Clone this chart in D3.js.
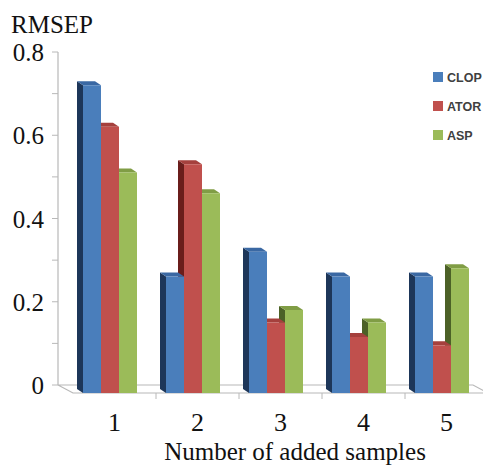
<!DOCTYPE html>
<html>
<head>
<meta charset="utf-8">
<script src="https://cdn.jsdelivr.net/npm/d3@7"></script>
<style>
  body { margin: 0; background: #fff; }
  svg { display: block; }
</style>
</head>
<body>
<div id="chart"></div>
<script>
// data
var samples = ["1", "2", "3", "4", "5"];
var seriesNames = ["CLOP", "ATOR", "ASP"];
var clop = [0.73, 0.27, 0.33, 0.27, 0.27];
var ator = [0.63, 0.54, 0.16, 0.125, 0.105];
var asp  = [0.52, 0.47, 0.19, 0.16, 0.29];
var yTicks = [0, 0.2, 0.4, 0.6, 0.8];

var values = [clop, ator, asp];

var width = 483, height = 465;

var svg = d3.select("#chart")
  .append("svg")
    .attr("width", width)
    .attr("height", height);

// colours: front, side, top
var colors = [
  {front: "#4a7ebb", side: "#1d3659", top: "#3a68a3"},
  {front: "#c0504d", side: "#6a1d1b", top: "#a5403d"},
  {front: "#9bbb59", side: "#4c6127", top: "#809d45"}
];

// depth of the 3d look (back face offset)
var dx = -6, dy = -4;
var floorDx = 15, floorDy = 8;

// y scale on the back wall
var y = d3.scaleLinear()
  .domain([0, 0.8])
  .range([385, 52]);

// x band on the front edge of the floor
var x = d3.scaleBand()
  .domain(samples)
  .range([73, 488]);

var barW = 18, barOffset = 10;

// floor
var x0 = 58, xEnd = 473;
var floor = [[x0, y(0)], [xEnd, y(0)], [xEnd + floorDx, y(0) + floorDy], [x0 + floorDx, y(0) + floorDy]];
svg.append("polygon")
  .attr("points", floor.map(function(p) { return p.join(","); }).join(" "))
  .attr("fill", "none")
  .attr("stroke", "#b8b8b8")
  .attr("stroke-width", 1.2);

// ticks under front edge
svg.selectAll(".xtick")
  .data(samples.slice(1))
  .enter()
  .append("line")
    .attr("x1", function(d) { return x(d); })
    .attr("x2", function(d) { return x(d); })
    .attr("y1", y(0) + floorDy)
    .attr("y2", y(0) + floorDy + 6)
    .attr("stroke", "#b8b8b8");

// y axis line + ticks every 0.1
svg.append("line")
  .attr("x1", x0).attr("x2", x0)
  .attr("y1", y(0.8)).attr("y2", y(0))
  .attr("stroke", "#b8b8b8")
  .attr("stroke-width", 1.2);

svg.selectAll(".ytick")
  .data(d3.range(0, 9).map(function(i) { return i / 10; }))
  .enter()
  .append("line")
    .attr("x1", x0 - 6)
    .attr("x2", x0)
    .attr("y1", function(d) { return y(d); })
    .attr("y2", function(d) { return y(d); })
    .attr("stroke", "#b8b8b8");

// y tick labels
svg.selectAll(".ylab")
  .data(yTicks)
  .enter()
  .append("text")
    .attr("x", 44)
    .attr("y", function(d) { return y(d) + 9; })
    .attr("text-anchor", "end")
    .style("font-family", "Liberation Serif, Times New Roman, serif")
    .style("font-size", "25px")
    .style("fill", "#111")
    .text(function(d) { return d === 0 ? "0" : d3.format(".1f")(d); });

// y title
svg.append("text")
  .attr("x", 11)
  .attr("y", 33)
  .style("font-family", "Liberation Serif, Times New Roman, serif")
  .style("font-size", "25px")
  .style("fill", "#111")
  .text("RMSEP");

// bars: one 3-face shape per value
function barFaces(xf, v) {
  var yt = y(v) - dy, yb = y(0) - dy + 4; // front top / front bottom
  var left = xf, right = xf + barW;
  return {
    side: [[left + dx, yt + dy], [left, yt], [left, yb], [left + dx, yb + dy]],
    top: [[left + dx, yt + dy], [right + dx, yt + dy], [right, yt], [left, yt]],
    front: [[left, yt], [right, yt], [right, yb], [left, yb]]
  };
}

function pts(a) { return a.map(function(p) { return p.join(","); }).join(" "); }

samples.forEach(function(s, i) {
  var g = svg.append("g");
  // draw right to left so nearer bars cover the hidden sides
  d3.range(seriesNames.length - 1, -1, -1).forEach(function(k) {
    var xf = x(s) + barOffset + k * barW;
    var f = barFaces(xf, values[k][i]);
    g.append("polygon").attr("points", pts(f.side)).attr("fill", colors[k].side);
    g.append("polygon").attr("points", pts(f.top)).attr("fill", colors[k].top);
    g.append("polygon").attr("points", pts(f.front)).attr("fill", colors[k].front);
  });
});

// x labels
svg.selectAll(".xlab")
  .data(samples)
  .enter()
  .append("text")
    .attr("x", function(d) { return x(d) + x.bandwidth() / 2; })
    .attr("y", 430.5)
    .attr("text-anchor", "middle")
    .style("font-family", "Liberation Serif, Times New Roman, serif")
    .style("font-size", "26px")
    .style("fill", "#111")
    .text(function(d) { return d; });

// x title
svg.append("text")
  .attr("x", 295)
  .attr("y", 459.5)
  .attr("text-anchor", "middle")
  .style("font-family", "Liberation Serif, Times New Roman, serif")
  .style("font-size", "25px")
  .style("fill", "#111")
  .text("Number of added samples");

// legend
var legend = svg.selectAll(".legend")
  .data(seriesNames)
  .enter()
  .append("g")
    .attr("transform", function(d, i) { return "translate(433," + (77 + i * 29) + ")"; });

legend.append("rect")
  .attr("x", 0)
  .attr("y", -5)
  .attr("width", 10)
  .attr("height", 10)
  .attr("fill", function(d, i) { return colors[i].front; });

legend.append("text")
  .attr("x", 14)
  .attr("y", 5)
  .style("font-family", "Liberation Sans, Arial, sans-serif")
  .style("font-weight", "bold")
  .style("font-size", "12.5px")
  .style("fill", "#404040")
  .text(function(d) { return d; });
</script>
</body>
</html>
